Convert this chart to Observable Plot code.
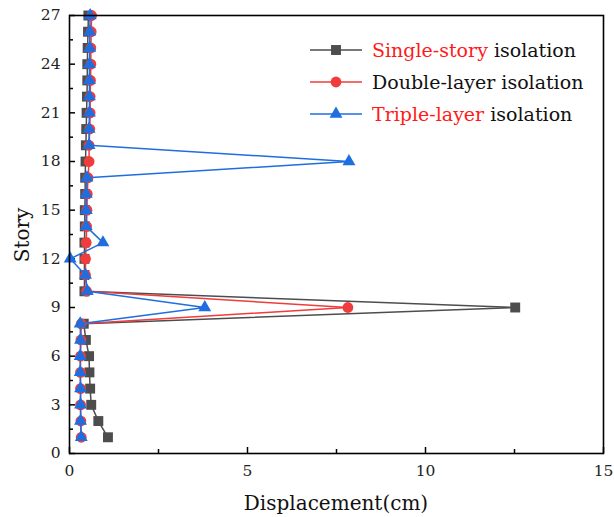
<!DOCTYPE html>
<html>
<head>
<meta charset="utf-8">
<script src="https://cdn.jsdelivr.net/npm/d3@7"></script>
<script src="https://cdn.jsdelivr.net/npm/@observablehq/plot@0.6"></script>
<style>
  html, body { margin: 0; padding: 0; background: #fff; }
  #chart svg { display: block; }
</style>
</head>
<body>
<div id="chart"></div>
<script>
// Storey numbers and peak displacement (cm) for each isolation scheme
const stories = d3.range(1, 28);
const singleStory = [1.08, 0.81, 0.61, 0.58, 0.56, 0.55, 0.46, 0.40, 12.52, 0.42, 0.42, 0.42, 0.42, 0.43, 0.43, 0.44, 0.44, 0.45, 0.46, 0.47, 0.48, 0.49, 0.50, 0.50, 0.51, 0.52, 0.53];
const doubleLayer = [0.33, 0.32, 0.31, 0.31, 0.31, 0.31, 0.32, 0.33, 7.82, 0.48, 0.45, 0.45, 0.47, 0.48, 0.49, 0.50, 0.52, 0.55, 0.55, 0.57, 0.58, 0.58, 0.59, 0.60, 0.60, 0.61, 0.62];
const tripleLayer = [0.33, 0.31, 0.31, 0.31, 0.30, 0.30, 0.31, 0.30, 3.80, 0.50, 0.45, 0.02, 0.94, 0.47, 0.47, 0.47, 0.49, 7.85, 0.55, 0.55, 0.56, 0.56, 0.56, 0.56, 0.57, 0.57, 0.58];

const xMajor = [0, 5, 10, 15];
const xMinor = [2.5, 7.5, 12.5];
const yMajor = [0, 3, 6, 9, 12, 15, 18, 21, 24, 27];
const yMinor = [1.5, 4.5, 7.5, 10.5, 13.5, 16.5, 19.5, 22.5, 25.5];

const series = [
  {name: "single", values: singleStory, color: "#4d4d4d", symbol: "square", r: 5.6,
   label: [["Single-story", "#ff1a1a"], [" isolation", "#111"]]},
  {name: "double", values: doubleLayer, color: "#f03c3c", symbol: "circle", r: 5.4,
   label: [["Double-layer isolation", "#111"]]},
  {name: "triple", values: tripleLayer, color: "#1f6ee0", symbol: "triangle", r: 4.8,
   label: [["Triple-layer", "#ff1a1a"], [" isolation", "#111"]]}
];

const rows = series.flatMap(s => s.values.map((v, i) => ({series: s.name, story: stories[i], disp: v})));

const font = "DejaVu Serif";

const marks = [];
for (const s of series) {
  const data = rows.filter(d => d.series === s.name);
  marks.push(Plot.line(data, {x: "disp", y: "story", stroke: s.color, strokeWidth: 1.5, curve: "linear"}));
  marks.push(Plot.dot(data, {x: "disp", y: "story", fill: s.color, stroke: "none", symbol: s.symbol, r: s.r}));
}

const chart = Plot.plot({
  width: 614,
  height: 517,
  marginLeft: 69,
  marginRight: 11,
  marginTop: 15,
  marginBottom: 64,
  style: {background: "#fff", overflow: "visible", fontFamily: font},
  x: {domain: [0, 15], axis: null},
  y: {domain: [0, 27], axis: null},
  marks: [
    // tick labels
    Plot.axisX({ticks: xMajor, tickSize: 0, tickPadding: 11, fontSize: 15.5, tickFormat: d => d, label: null, fill: "#222"}),
    Plot.axisY({ticks: yMajor, tickSize: 0, tickPadding: 9, fontSize: 15.5, tickFormat: d => d, label: null, fill: "#222"}),
    // inward tick marks
    Plot.axisX({ticks: xMajor, tickSize: -6, tickFormat: () => "", label: null, strokeWidth: 1.5}),
    Plot.axisX({ticks: xMinor, tickSize: -4, tickFormat: () => "", label: null, strokeWidth: 1.5}),
    Plot.axisY({ticks: yMajor, tickSize: -6, tickFormat: () => "", label: null, strokeWidth: 1.5}),
    Plot.axisY({ticks: yMinor, tickSize: -4, tickFormat: () => "", label: null, strokeWidth: 1.5}),
    ...marks,
    Plot.frame({stroke: "#000", strokeWidth: 1.6})
  ]
});

const svg = d3.select(chart);

// axis titles
svg.append("text")
  .attr("x", 336).attr("y", 510)
  .attr("text-anchor", "middle")
  .attr("font-size", 20).attr("fill", "#111")
  .text("Displacement(cm)");
svg.append("text")
  .attr("transform", "translate(29,235) rotate(-90)")
  .attr("text-anchor", "middle")
  .attr("font-size", 20).attr("fill", "#111")
  .text("Story");

// legend
const sym = {square: d3.symbolSquare, circle: d3.symbolCircle, triangle: d3.symbolTriangle};
const legend = svg.append("g").attr("transform", "translate(310,50)");
series.forEach((s, i) => {
  const g = legend.append("g").attr("transform", `translate(0,${i * 32})`);
  g.append("line").attr("x1", 0).attr("x2", 52).attr("y1", 0).attr("y2", 0)
    .attr("stroke", s.color).attr("stroke-width", 1.5);
  g.append("path").attr("transform", "translate(26,0)")
    .attr("d", d3.symbol(sym[s.symbol], s.r * s.r * Math.PI)())
    .attr("fill", s.color);
  const t = g.append("text").attr("x", 62).attr("y", 0).attr("dy", "0.35em")
    .attr("text-anchor", "start").attr("font-size", 19);
  for (const [str, col] of s.label) t.append("tspan").attr("fill", col).text(str);
});

svg.attr("font-family", font);

document.getElementById("chart").appendChild(chart);
</script>
</body>
</html>
